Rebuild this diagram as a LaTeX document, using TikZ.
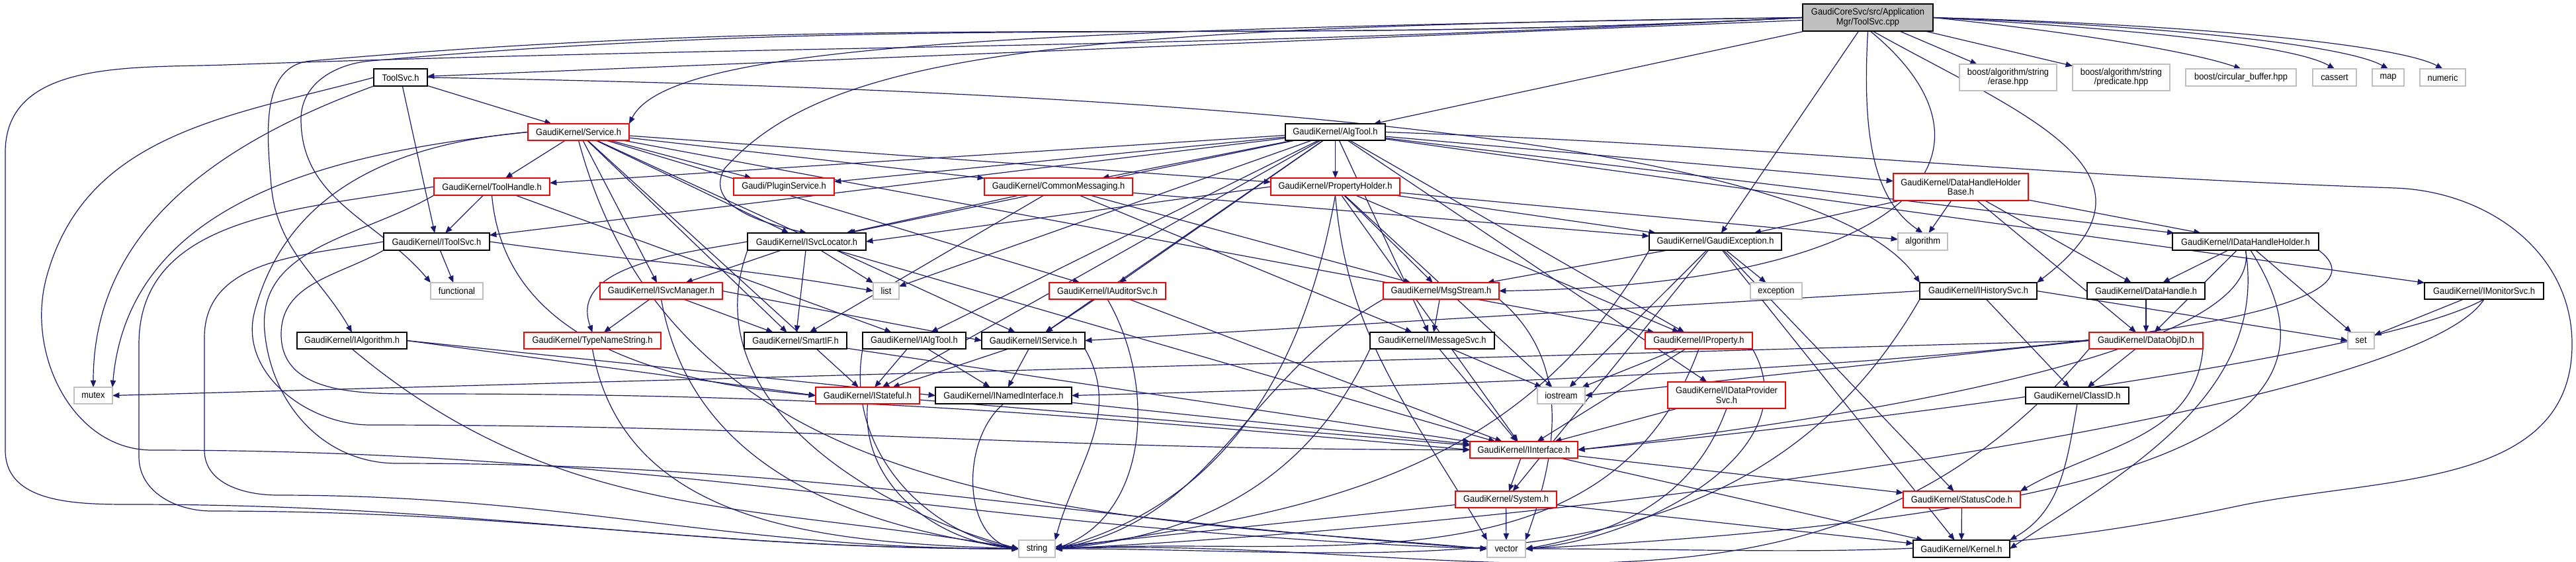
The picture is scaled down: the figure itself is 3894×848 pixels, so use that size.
\documentclass[tikz,border=0pt]{standalone}
\usepackage{fontspec}
\setmainfont{Liberation Sans}[FakeStretch=0.92]
\usetikzlibrary{arrows.meta,backgrounds}
\definecolor{edgeblue}{RGB}{25,25,112}
\definecolor{lgray}{RGB}{191,191,191}
\definecolor{nred}{RGB}{255,0,0}
\newcommand\gfont{\fontsize{3.5}{3.6}\selectfont}
\newcommand\mknode[7]{\node[#6, minimum width={0.25pt*(#4-#2)}, minimum height={0.25pt*(#5-#3)}] (#1) at ({(#2+#4)/2},{(#3+#5)/2}) {#7};}
\begin{document}
\begin{tikzpicture}[x=0.25pt,y=-0.25pt,
  nbase/.style={fill=white, inner sep=0pt, outer sep=0pt, align=center, font=\gfont, text=black},
  nblack/.style={nbase, draw=black, line width=0.4pt},
  nredbox/.style={nbase, draw=nred, line width=0.35pt},
  ngray/.style={nbase, draw=lgray, line width=0.35pt},
  ntop/.style={nbase, draw=black, fill=lgray, line width=0.4pt},
  edge/.style={draw=edgeblue, line width=0.3pt, -{Triangle[length=2.6pt,width=2.1pt]}}]
\useasboundingbox (0,0) rectangle (3894,848);
% nodes
\mknode{cpp}{2725}{6}{2922}{47}{ntop}{GaudiCoreSvc/src/Application\\Mgr/ToolSvc.cpp}
\mknode{toolsvch}{565}{104}{646}{130}{nblack}{ToolSvc.h}
\mknode{service}{798}{187}{951}{212}{nredbox}{GaudiKernel/Service.h}
\mknode{algtool}{1943}{187}{2094}{212}{nblack}{GaudiKernel/AlgTool.h}
\mknode{erase}{2962}{97}{3109}{137}{ngray}{boost/algorithm/string\\/erase.hpp}
\mknode{pred}{3133}{97}{3280}{137}{ngray}{boost/algorithm/string\\/predicate.hpp}
\mknode{circ}{3304}{104}{3471}{130}{ngray}{boost/circular\_buffer.hpp}
\mknode{cassert}{3496}{104}{3562}{130}{ngray}{cassert}
\mknode{map}{3586}{104}{3634}{130}{ngray}{map}
\mknode{numeric}{3658}{104}{3727}{130}{ngray}{numeric}
\mknode{toolhandle}{656}{269}{831}{295}{nredbox}{GaudiKernel/ToolHandle.h}
\mknode{plugin}{1109}{269}{1261}{295}{nredbox}{Gaudi/PluginService.h}
\mknode{commsg}{1488}{269}{1712}{295}{nredbox}{GaudiKernel/CommonMessaging.h}
\mknode{propholder}{1921}{269}{2116}{295}{nredbox}{GaudiKernel/PropertyHolder.h}
\mknode{dhhb}{2862}{262}{3066}{303}{nredbox}{GaudiKernel/DataHandleHolder\\Base.h}
\mknode{itoolsvc}{580}{352}{740}{378}{nblack}{GaudiKernel/IToolSvc.h}
\mknode{isvcloc}{1130}{352}{1309}{378}{nblack}{GaudiKernel/ISvcLocator.h}
\mknode{gexc}{2493}{352}{2693}{378}{nblack}{GaudiKernel/GaudiException.h}
\mknode{algorithm}{2869}{352}{2944}{378}{ngray}{algorithm}
\mknode{idhh}{3284}{352}{3505}{378}{nblack}{GaudiKernel/IDataHandleHolder.h}
\mknode{functional}{651}{427}{730}{452}{ngray}{functional}
\mknode{isvcman}{907}{427}{1092}{452}{nredbox}{GaudiKernel/ISvcManager.h}
\mknode{list}{1320}{427}{1359}{452}{ngray}{list}
\mknode{iaudsvc}{1586}{427}{1762}{452}{nredbox}{GaudiKernel/IAuditorSvc.h}
\mknode{msgstream}{2091}{427}{2266}{452}{nredbox}{GaudiKernel/MsgStream.h}
\mknode{exception}{2646}{427}{2724}{452}{ngray}{exception}
\mknode{ihistsvc}{2902}{427}{3079}{452}{nblack}{GaudiKernel/IHistorySvc.h}
\mknode{datahandle}{3155}{427}{3333}{452}{nblack}{GaudiKernel/DataHandle.h}
\mknode{imonsvc}{3665}{427}{3845}{452}{nblack}{GaudiKernel/IMonitorSvc.h}
\mknode{ialgorithm}{449}{502}{615}{527}{nblack}{GaudiKernel/IAlgorithm.h}
\mknode{typename}{792}{502}{999}{527}{nredbox}{GaudiKernel/TypeNameString.h}
\mknode{smartif}{1125}{502}{1280}{527}{nblack}{GaudiKernel/SmartIF.h}
\mknode{ialgtool}{1304}{502}{1460}{527}{nblack}{GaudiKernel/IAlgTool.h}
\mknode{iservice}{1484}{502}{1640}{527}{nblack}{GaudiKernel/IService.h}
\mknode{imsgsvc}{2071}{502}{2259}{527}{nblack}{GaudiKernel/IMessageSvc.h}
\mknode{iproperty}{2487}{502}{2649}{527}{nredbox}{GaudiKernel/IProperty.h}
\mknode{dataobjid}{3158}{502}{3330}{527}{nredbox}{GaudiKernel/DataObjID.h}
\mknode{set}{3549}{502}{3589}{527}{ngray}{set}
\mknode{mutex}{112}{585}{170}{610}{ngray}{mutex}
\mknode{istateful}{1233}{585}{1390}{610}{nredbox}{GaudiKernel/IStateful.h}
\mknode{inamed}{1414}{585}{1620}{610}{nblack}{GaudiKernel/INamedInterface.h}
\mknode{iostream}{2324}{585}{2396}{610}{ngray}{iostream}
\mknode{idatasvc}{2521}{577}{2699}{617}{nredbox}{GaudiKernel/IDataProvider\\Svc.h}
\mknode{classid}{3062}{585}{3218}{610}{nblack}{GaudiKernel/ClassID.h}
\mknode{iinterface}{2222}{667}{2385}{692}{nredbox}{GaudiKernel/IInterface.h}
\mknode{system}{2200}{742}{2353}{767}{nredbox}{GaudiKernel/System.h}
\mknode{statuscode}{2877}{742}{3054}{767}{nredbox}{GaudiKernel/StatusCode.h}
\mknode{string}{1540}{816}{1595}{842}{ngray}{string}
\mknode{vector}{2248}{816}{2306}{842}{ngray}{vector}
\mknode{kernel}{2892}{816}{3038}{842}{nblack}{GaudiKernel/Kernel.h}
% waypoints
\coordinate (wA1) at (340,98);  \coordinate (wA2) at (8,230);  \coordinate (wA3) at (8,680);  \coordinate (wA4) at (200,762);
\coordinate (wB1) at (70,420);  \coordinate (wB2) at (230,680);
\coordinate (wC1) at (210,520); \coordinate (wC2) at (210,690); \coordinate (wC3) at (320,772);
\coordinate (wD1) at (400,500); \coordinate (wD2) at (600,700);
\coordinate (wE1) at (309,510); \coordinate (wE2) at (309,680); \coordinate (wE3) at (420,748);
\coordinate (wF1) at (385,470); \coordinate (wF2) at (560,642);
\coordinate (wG1) at (425,505); \coordinate (wG2) at (650,595);
\coordinate (wH1) at (470,92);  \coordinate (wH2) at (410,280);
\coordinate (wI1) at (560,92);  \coordinate (wI2) at (455,180);
\coordinate (wJ1) at (3620,284); \coordinate (wJ2) at (3888,520); \coordinate (wJ3) at (3380,765);
\coordinate (wN1) at (1095,255);
\begin{pgfonlayer}{background}
% from ToolSvc.cpp
\draw[edge] (cpp) -- (toolsvch);
\draw[edge] (cpp.west) .. controls (1500,45) and (1010,70) .. (service.north east);
\draw[edge] (cpp.west) .. controls (1600,40) and (1250,80) .. (wN1) .. controls (1070,300) and (1120,330) .. (isvcloc.north);
\draw[edge] (cpp) -- (algtool);
\draw[edge] (cpp) -- (gexc);
\draw[edge] (cpp.south) .. controls (2815,200) and (2830,300) .. (algorithm.north);
\draw[edge] (cpp) -- (erase);
\draw[edge] (cpp) -- (pred);
\draw[edge] (cpp.east) .. controls (3150,50) and (3320,80) .. (circ.north);
\draw[edge] (cpp.east) .. controls (3250,45) and (3470,70) .. (cassert.north);
\draw[edge] (cpp.east) .. controls (3300,40) and (3550,70) .. (map.north);
\draw[edge] (cpp.east) .. controls (3350,38) and (3630,70) .. (numeric.north);
\draw[edge] (cpp.west) to[out=183,in=2] (wA1) to[out=182,in=90] (wA2) -- (wA3) to[out=-90,in=180] (wA4) to[out=0,in=180] (string.west);
\draw[edge] (cpp.west) to[out=183,in=5] (wH1) to[out=185,in=95] (wH2) to[out=-85,in=120] (ialgorithm.north);
\draw[edge] (cpp.west) to[out=183,in=5] (wI1) to[out=185,in=90] (wI2) to[out=-90,in=130] (functional.north west);
\draw[edge] (cpp.-80) .. controls (3050,230) and (2900,430) .. (msgstream.east);
\draw[edge] (cpp.-70) .. controls (3050,170) and (3300,260) .. (ihistsvc.north east);
% ToolSvc.h
\draw[edge] (toolsvch) -- (service);
\draw[edge] (toolsvch) -- (itoolsvc);
\draw[edge] (toolsvch.east) .. controls (1700,135) and (2750,200) .. (ihistsvc.north west);
\draw[edge] (toolsvch.south west) to[out=200,in=90] (mutex.north);
\draw[edge] (toolsvch.west) to[out=195,in=75] (wB1) to[out=-105,in=180] (wB2) to[out=0,in=178] (vector.west);
% Service.h
\draw[edge] (service) -- (toolhandle);
\draw[edge] (service) -- (plugin);
\draw[edge] (service) -- (commsg);
\draw[edge] (service) -- (propholder);
\draw[edge] (service) -- (isvcloc);
\draw[edge] (service) -- (iservice);
\draw[edge] (service) -- (iproperty);
\draw[edge] (service) -- (istateful);
\draw[edge] (service) -- (isvcman);
\draw[edge] (service) -- (iaudsvc);
\draw[edge] (service) -- (smartif);
\draw[edge] (service.west) to[out=186,in=85] (mutex.north east);
\draw[edge] (service.west) to[out=185,in=75] (wF1) to[out=-105,in=180] (wF2) to[out=0,in=180] (iinterface.west);
\draw[edge] (service.south) to[out=-75,in=175] (vector.west);
% ToolHandle.h
\draw[edge] (toolhandle) -- (itoolsvc);
\draw[edge] (toolhandle) -- (ialgtool);
\draw[edge] (toolhandle.south) to[out=-85,in=175] (istateful.west);
\draw[edge] (toolhandle.west) to[out=190,in=90] (wC1) -- (wC2) to[out=-90,in=180] (wC3) to[out=0,in=180] (string.west);
\draw[edge] (toolhandle.south west) to[out=-150,in=95] (wD1) to[out=-85,in=180] (wD2) to[out=0,in=176] (vector.west);
% IToolSvc.h
\draw[edge] (itoolsvc) -- (functional);
\draw[edge] (itoolsvc.east) to[out=-8,in=170] (list.west);
\draw[edge] (itoolsvc.west) to[out=190,in=90] (wE1) -- (wE2) to[out=-90,in=180] (wE3) to[out=0,in=180] (string.west);
\draw[edge] (itoolsvc.south west) to[out=-150,in=90] (wG1) to[out=-90,in=180] (wG2) to[out=0,in=175] (iinterface.west);
% ISvcLocator.h
\draw[edge] (isvcloc) -- (isvcman);
\draw[edge] (isvcloc) -- (smartif);
\draw[edge] (isvcloc.west) to[out=190,in=110] (typename.north);
\draw[edge] (isvcloc) -- (list);
\draw[edge] (isvcloc) -- (iinterface);
\draw[edge] (isvcloc.south west) to[out=-110,in=165] (string.west);
% ISvcManager.h
\draw[edge] (isvcman) -- (typename);
\draw[edge] (isvcman) -- (smartif);
\draw[edge] (isvcman.east) -- (iservice.west);
\draw[edge] (isvcman.south) to[out=-80,in=172] (string.west);
% leaves
\draw[edge] (typename.south) to[out=-80,in=178] (string.west);
\draw[edge] (smartif) -- (iinterface);
\draw[edge] (ialgtool) -- (istateful);
\draw[edge] (ialgtool) -- (inamed);
\draw[edge] (ialgtool.south west) to[out=-100,in=170] (string.west);
\draw[edge] (iservice) -- (istateful);
\draw[edge] (iservice) -- (inamed);
\draw[edge] (iservice.south east) to[out=-60,in=75] (string.north east);
\draw[edge] (inamed) -- (iinterface);
\draw[edge] (inamed.south) to[out=-140,in=170] (string.west);
\draw[edge] (istateful) -- (iinterface);
\draw[edge] (istateful.south) to[out=-95,in=175] (string.west);
\draw[edge] (iaudsvc) -- (iservice);
\draw[edge] (iaudsvc) -- (iinterface);
\draw[edge] (iaudsvc.south) to[out=-60,in=20] (string.east);
% CommonMessaging.h
\draw[edge] (commsg) -- (gexc);
\draw[edge] (commsg) -- (imsgsvc);
\draw[edge] (commsg) -- (isvcloc);
\draw[edge] (commsg) -- (msgstream);
\draw[edge] (commsg) -- (smartif);
% PropertyHolder.h
\draw[edge] (propholder) -- (iproperty);
\draw[edge] (propholder) -- (gexc);
\draw[edge] (propholder.west) -- (isvcloc.east);
\draw[edge] (propholder) -- (iinterface);
\draw[edge] (propholder) -- (msgstream);
\draw[edge] (propholder) -- (algorithm);
\draw[edge] (propholder) -- (iostream);
\draw[edge] (propholder.south) to[out=-100,in=15] (string.east);
\draw[edge] (propholder.south) to[out=-85,in=120] (vector.north west);
% AlgTool.h
\draw[edge] (algtool) -- (propholder);
\draw[edge] (algtool) -- (commsg);
\draw[edge] (algtool) -- (toolhandle);
\draw[edge] (algtool) -- (plugin);
\draw[edge] (algtool) -- (itoolsvc);
\draw[edge] (algtool) -- (isvcloc);
\draw[edge] (algtool) -- (iaudsvc);
\draw[edge] (algtool) -- (ialgtool);
\draw[edge] (algtool) -- (iservice);
\draw[edge] (algtool) -- (imsgsvc);
\draw[edge] (algtool) -- (iproperty);
\draw[edge] (algtool) -- (idatasvc);
\draw[edge] (algtool) -- (istateful);
\draw[edge] (algtool) -- (list);
\draw[edge] (algtool) -- (dhhb);
\draw[edge] (algtool) -- (idhh);
\draw[edge] (algtool) -- (imonsvc);
\draw[edge] (algtool.east) to[out=-2,in=178] (wJ1) to[out=-2,in=90] (wJ2) to[out=-90,in=12] (wJ3) to[out=192,in=0] (vector.east);
% GaudiException.h
\draw[edge] (gexc) -- (msgstream);
\draw[edge] (gexc) -- (iostream);
\draw[edge] (gexc) -- (exception);
\draw[edge] (gexc) -- (statuscode);
\draw[edge] (gexc) -- (system);
\draw[edge] (gexc) -- (kernel);
\draw[edge] (gexc.south west) to[out=-120,in=8] (string.east);
% MsgStream.h
\draw[edge] (msgstream) -- (imsgsvc);
\draw[edge] (msgstream.south west) to[out=-150,in=10] (string.east);
\draw[edge] (msgstream.south east) to[out=-40,in=70] (vector.north east);
% IMessageSvc.h
\draw[edge] (imsgsvc) -- (iinterface);
\draw[edge] (imsgsvc) -- (iostream);
\draw[edge] (imsgsvc.south west) to[out=-115,in=5] (string.east);
% IProperty.h
\draw[edge] (iproperty) -- (iinterface);
\draw[edge] (iproperty) -- (iostream);
\draw[edge] (iproperty.south) to[out=-110,in=3] (string.east);
\draw[edge] (iproperty.south east) to[out=-60,in=5] (vector.east);
% IDataProviderSvc.h
\draw[edge] (idatasvc) -- (iinterface);
\draw[edge] (idatasvc.south) to[out=-110,in=10] (vector.east);
% IInterface.h, System.h etc
\draw[edge] (iinterface) -- (system);
\draw[edge] (iinterface) -- (statuscode);
\draw[edge] (iinterface) -- (kernel);
\draw[edge] (system) -- (vector);
\draw[edge] (system) -- (string);
\draw[edge] (system) -- (kernel);
\draw[edge] (statuscode) -- (kernel);
\draw[edge] (classid.south) to[out=-100,in=30] (kernel.north east);
% DataObjID.h
\draw[edge] (dataobjid) -- (classid);
\draw[edge] (dataobjid.south east) to[out=-95,in=30] (statuscode.north east);
\draw[edge] (dataobjid.west) -- (mutex.east);
\draw[edge] (dataobjid.west) -- (iostream.east);
\draw[edge] (dataobjid.south west) to[out=-130,in=2] (string.east);
\draw[edge] (datahandle) -- (dataobjid);
% DataHandleHolderBase.h
\draw[edge] (dhhb) -- (gexc);
\draw[edge] (dhhb) -- (algorithm);
\draw[edge] (dhhb) -- (dataobjid);
\draw[edge] (dhhb) -- (idhh);
\draw[edge] (dhhb) -- (datahandle);
% IDataHandleHolder.h
\draw[edge] (idhh) -- (datahandle);
\draw[edge] (idhh) -- (dataobjid);
\draw[edge] (idhh) -- (set);
\draw[edge] (idhh.south) .. controls (3420,520) and (2900,620) .. (iinterface.east);
\draw[edge] (idhh.south east) .. controls (3640,480) and (3100,560) .. (inamed.east);
\draw[edge] (idhh.-60) .. controls (3530,580) and (3450,770) .. (vector.east);
\draw[edge] (idhh.south) .. controls (3430,600) and (3200,720) .. (kernel.east);
% IHistorySvc.h
\draw[edge] (ihistsvc.west) -- (iservice.east);
\draw[edge] (ihistsvc) -- (classid);
\draw[edge] (ihistsvc.east) -- (set.west);
\draw[edge] (ihistsvc.south west) to[out=-120,in=0] (string.east);
% IMonitorSvc.h
\draw[edge] (imonsvc) -- (set);
\draw[edge] (imonsvc.south) .. controls (3600,540) and (2800,640) .. (iinterface.east);
\draw[edge] (imonsvc.south) .. controls (3650,620) and (2400,790) .. (string.east);
% IAlgorithm.h
\draw[edge] (ialgorithm.east) -- (inamed.west);
\draw[edge] (ialgorithm.east) -- (istateful.west);
\draw[edge] (ialgorithm.south) to[out=-40,in=170] (string.west);
\end{pgfonlayer}
\end{tikzpicture}
\end{document}
